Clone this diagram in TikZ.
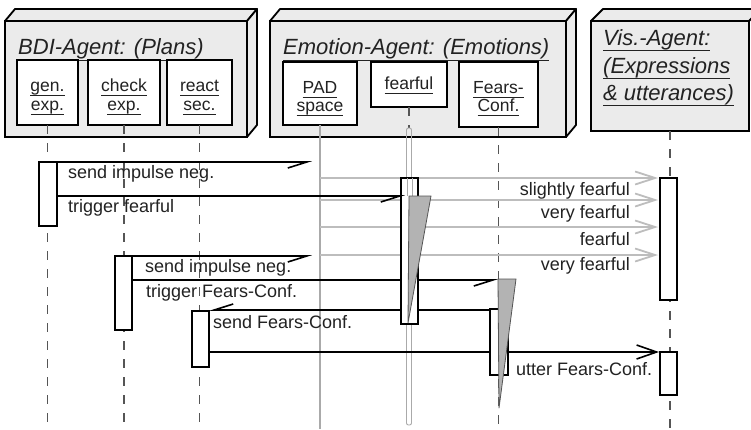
\documentclass[tikz,border=0pt]{standalone}
\usepackage{fontspec}
\setmainfont{Liberation Sans}
\usetikzlibrary{arrows.meta,calc}
\definecolor{agentfill}{HTML}{EBEBEB}
\definecolor{txt}{HTML}{222222}
\definecolor{msggray}{HTML}{BDBDBD}
\definecolor{trifill}{HTML}{B3B3B3}
\definecolor{lifegray}{HTML}{555555}
\definecolor{padgray}{HTML}{AAAAAA}
\newcommand\ulabel[2][5pt]{\setbox0\hbox{#2}\rlap{\rule[-#1]{\wd0}{1.1pt}}\box0}
\begin{document}
\begin{tikzpicture}[x=1pt,y=-1pt,
  agent/.style={draw=black, line width=1.8pt, fill=agentfill, inner sep=0, outer sep=0, anchor=north west},
  agentside/.style={draw=black, line width=1.8pt, fill=agentfill, line join=round},
  inbox/.style={draw=black, line width=1.8pt, fill=white, inner sep=0, outer sep=0, anchor=north west},
  title/.style={inner sep=0, text=txt, font=\fontsize{22}{26}\selectfont\itshape},
  inlab/.style={inner sep=0, text=txt, anchor=base, font=\fontsize{17.5}{19}\selectfont},
  msglab/.style={inner sep=0, text=txt, font=\fontsize{18}{20}\selectfont},
  life/.style={draw=lifegray, line width=1.2pt, dash pattern=on 9pt off 9pt},
  padlife/.style={draw=padgray, line width=1.2pt},
  thinlife/.style={draw=padgray, line width=0.9pt, rounded corners=2pt, inner sep=0, outer sep=0},
  bar/.style={draw=black, line width=1.8pt, fill=white, inner sep=0, outer sep=0, anchor=north west},
  tri/.style={draw=lifegray, line width=0.8pt, fill=trifill, line join=round},
  msg/.style={draw=black, line width=1.6pt, -{Straight Barb[harpoon,swap,length=19pt,width=12pt]}},
  graymsg/.style={draw=msggray, line width=1.8pt, -{Straight Barb[length=20pt,width=13pt]}},
  callmsg/.style={draw=black, line width=1.6pt, -{Straight Barb[length=20pt,width=14pt]}}
]
\useasboundingbox (0,0) rectangle (751,429);
\fill[white] (0,0) rectangle (751,429);

% ---------- agent boxes ----------
\node[agent, minimum width=242, minimum height=116] (bdi) at (5,21) {};
\draw[agentside] (bdi.north west) -- ++(10,-12) -- ($(bdi.north east)+(10,-12)$) -- (bdi.north east) -- cycle;
\draw[agentside] (bdi.north east) -- ++(10,-12) -- ($(bdi.south east)+(10,-12)$) -- (bdi.south east) -- cycle;

\node[agent, minimum width=296, minimum height=116] (emo) at (270,21) {};
\draw[agentside] (emo.north west) -- ++(10,-12) -- ($(emo.north east)+(10,-12)$) -- (emo.north east) -- cycle;
\draw[agentside] (emo.north east) -- ++(10,-12) -- ($(emo.south east)+(10,-12)$) -- (emo.south east) -- cycle;

\node[agent, minimum width=158, minimum height=110] (vis) at (591,21) {};
\draw[agentside] (vis.north west) -- ++(12,-12) -- ($(vis.north east)+(12,-12)$) -- (vis.north east) -- cycle;

% titles
\node[title, anchor=base west] (bdititle) at (18,54) {\ulabel[7pt]{BDI-Agent: (Plans)}};
\node[title, anchor=base west] (emotitle) at (283,54) {\ulabel[7pt]{Emotion-Agent: (Emotions)}};
\node[title, anchor=base west] (vistitleA) at (603,45) {\ulabel[6pt]{Vis.-Agent:}};
\node[title, anchor=base west] (vistitleB) at (603,73) {\ulabel[6pt]{(Expressions}};
\node[title, anchor=base west] (vistitleC) at (603,100) {\ulabel[6pt]{\& utterances)}};

% inner boxes
\node[inbox, minimum width=61, minimum height=65] (genbox) at (17,60) {};
\node[inbox, minimum width=72, minimum height=65] (checkbox) at (88,60) {};
\node[inbox, minimum width=65, minimum height=65] (reactbox) at (167,60) {};
\node[inbox, minimum width=74, minimum height=63] (padbox) at (283,62) {};
\node[inbox, minimum width=76, minimum height=45] (fearbox) at (371,62) {};
\node[inbox, minimum width=79, minimum height=65] (fcbox) at (459,62) {};

\node[inlab] (genA) at (47.5,91) {\ulabel{gen.}};
\node[inlab] (genB) at (47.5,110) {\ulabel{exp.}};
\node[inlab] (checkA) at (124,91) {\ulabel{check}};
\node[inlab] (checkB) at (124,110) {\ulabel{exp.}};
\node[inlab] (reactA) at (199.5,91) {\ulabel{react}};
\node[inlab] (reactB) at (199.5,110) {\ulabel{sec.}};
\node[inlab] (padA) at (320,93) {\ulabel{PAD}};
\node[inlab] (padB) at (320,111) {\ulabel{space}};
\node[inlab] (fearA) at (409,89) {\ulabel{fearful}};
\node[inlab] (fcA) at (498.5,93) {\ulabel{Fears-}};
\node[inlab] (fcB) at (498.5,111) {\ulabel{Conf.}};

% ---------- lifelines ----------
\coordinate (genend) at (47.5,429);
\coordinate (checkend) at (124,429);
\coordinate (reactend) at (199.5,429);
\coordinate (padend) at (320,429);
\coordinate (fcend) at (498.5,429);
\coordinate (visend) at (670,429);
\coordinate (feartop) at (409,128);
\draw[life] (genbox.south) -- (genend);
\draw[life] (checkbox.south) -- (checkend);
\draw[life] (reactbox.south) -- (reactend);
\draw[padlife] (padbox.south) -- (padend);
\draw[life] (fcbox.south) -- (fcend);
\draw[life] (vis.south) -- (visend);
\draw[life] (fearbox.south) -- (feartop);
\node[thinlife, minimum width=5, minimum height=297, anchor=north] (fearlife) at (feartop) {};

% ---------- coordinates for messages ----------
\coordinate (m1e) at (312,162);
\coordinate (m2e) at (405,196);
\coordinate (g1s) at (320,178); \coordinate (g1e) at (658,178);
\coordinate (g2s) at (320,200); \coordinate (g2e) at (658,200);
\coordinate (g3s) at (320,227); \coordinate (g3e) at (658,227);
\coordinate (g4s) at (320,255); \coordinate (g4e) at (658,255);
\coordinate (m3e) at (312,256);
\coordinate (m4e) at (498,280);
\coordinate (m5s) at (490,310); \coordinate (m5e) at (209,310);
\coordinate (m6e) at (659,352);

% gray messages (behind bars)
\draw[graymsg] (g1s) -- (g1e);
\draw[graymsg] (g2s) -- (g2e);
\draw[graymsg] (g3s) -- (g3e);
\draw[graymsg] (g4s) -- (g4e);

% black messages behind bars
\coordinate (m1s) at (57,162);
\coordinate (m3s) at (132,256);
\coordinate (m4s) at (132,280);
\coordinate (m6s) at (209,352);
\draw[msg] (m1s) -- (m1e);
\draw[msg] (m3s) -- (m3e);
\draw[msg] (m4s) -- (m4e);
\draw[msg] (m5s) -- (m5e);
\draw[callmsg] (m6s) -- (m6e);

% ---------- activation bars ----------
\node[bar, minimum width=18, minimum height=64] (genbar) at (39,162) {};
\node[bar, minimum width=17, minimum height=146] (fearbar) at (401,178) {};
\node[bar, minimum width=17, minimum height=122] (visbarA) at (660,178) {};
\node[bar, minimum width=17, minimum height=74] (checkbar) at (115,256) {};
\node[bar, minimum width=18, minimum height=66] (fcbar) at (490,309) {};
\node[bar, minimum width=17, minimum height=56] (reactbar) at (192,311) {};
\node[bar, minimum width=17, minimum height=43] (visbarB) at (660,352) {};

% lifeline visible inside fearful bar
\draw[padgray, line width=0.9pt] (407,178) -- (407,196) (412,178) -- (412,196);

% intensity triangles
\coordinate (t1a) at (409,196); \coordinate (t1b) at (431,196); \coordinate (t1c) at (408,323);
\coordinate (t2a) at (498,279); \coordinate (t2b) at (516,279); \coordinate (t2c) at (499,408);
\draw[tri] (t1a) -- (t1b) -- (t1c) -- cycle;
\draw[tri] (t2a) -- (t2b) -- (t2c) -- cycle;

% message into fearful bar (drawn on top)
\draw[msg] (genbar.east |- m2e) -- (m2e);

% ---------- labels ----------
\node[msglab, anchor=base west] (l1) at (68,178) {send impulse neg.};
\node[msglab, anchor=base west] (l2) at (68,212) {trigger fearful};
\node[msglab, anchor=base east] (l3) at (630,195) {slightly fearful};
\node[msglab, anchor=base east] (l4) at (630,218) {very fearful};
\node[msglab, anchor=base east] (l5) at (630,245) {fearful};
\node[msglab, anchor=base east] (l6) at (630,270) {very fearful};
\node[msglab, anchor=base west] (l7) at (145,272) {send impulse neg.};
\node[msglab, anchor=base west] (l8) at (146,297) {trigger Fears-Conf.};
\node[msglab, anchor=base west] (l9) at (213,328) {send Fears-Conf.};
\node[msglab, anchor=base west] (l10) at (516,375) {utter Fears-Conf.};
\end{tikzpicture}
\end{document}
